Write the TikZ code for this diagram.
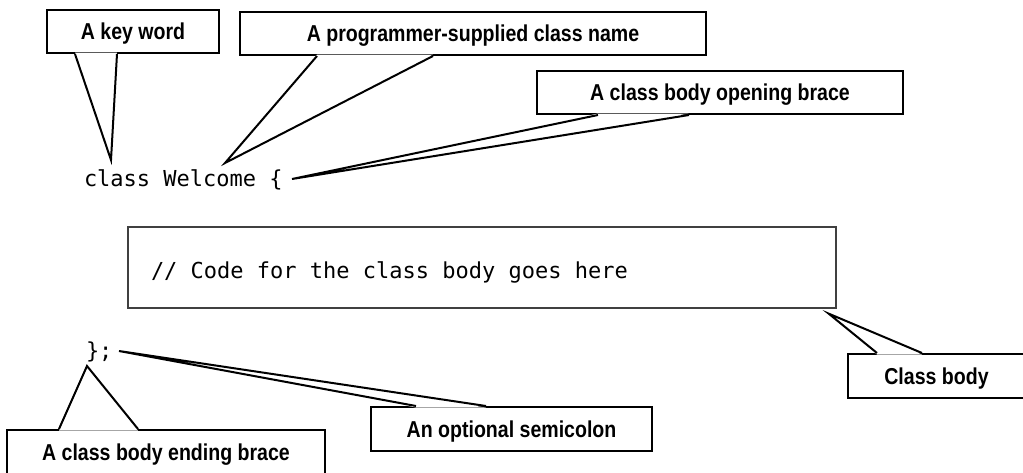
\documentclass[tikz,border=0pt]{standalone}
\usepackage{fontspec}
\setmainfont{Liberation Sans}
\setmonofont{DejaVu Sans Mono}
\newfontfamily\labelfont[FakeStretch=0.85]{Liberation Sans}

% pointer of a callout: base points #1, #2, tip #3, shift into the box #4
\newcommand{\callptr}[4]{%
	\fill[white] ([yshift=#4]#1) -- (#3) -- ([yshift=#4]#2) -- cycle;
	\draw (#1) -- (#3) -- (#2);}

\begin{document}
\begin{tikzpicture}[x=1pt, y=-1pt, line width=2pt]
	\tikzset{callbox/.style={draw, fill=white, inner sep=0pt, text depth=0pt, font=\labelfont\bfseries\fontsize{23}{26}\selectfont},
		codetext/.style={anchor=base west, inner sep=0pt, font=\ttfamily\fontsize{22}{26}\selectfont}}
	\useasboundingbox (0,0) rectangle (1023,472);
	% the code
	\node[codetext] (head) at (83,186) {class Welcome \{};
	\node[draw=black!75, line width=1.2pt, minimum width=708pt, minimum height=81pt] (body) at (482,267.5) {};
	\node[codetext] (comment) at (150,278) {// Code for the class body goes here};
	\node[codetext] (tail) at (85,358) {\};};
	% the callouts
	\node[callbox, minimum width=172pt, minimum height=43pt] (kw) at (133,31.5) {A key word};
	\node[callbox, minimum width=466pt, minimum height=43pt] (name) at (473,33.5) {A programmer-supplied class name};
	\node[callbox, minimum width=366pt, minimum height=43pt] (open) at (720,92.5) {A class body opening brace};
	\node[callbox, minimum width=177pt, minimum height=44pt] (cbody) at (936.5,376) {Class body};
	\node[callbox, minimum width=281pt, minimum height=44pt] (semi) at (511.5,429) {An optional semicolon};
	\node[callbox, minimum width=318pt, minimum height=44pt] (close) at (166,452) {A class body ending brace};
	% tips
	\coordinate (kwtip) at (111,160);
	\coordinate (nametip) at (225,163);
	\coordinate (opentip) at (292,179);
	\coordinate (cbodytip) at ([xshift=-8pt,yshift=-5pt]body.south east);
	\coordinate (semitip) at (119,351);
	\coordinate (closetip) at (87,366);
	% bases
	\coordinate (kwa) at ([xshift=29pt]kw.south west);
	\coordinate (kwb) at ([xshift=71pt]kw.south west);
	\coordinate (namea) at ([xshift=78pt]name.south west);
	\coordinate (nameb) at ([xshift=194pt]name.south west);
	\coordinate (opena) at ([xshift=62pt]open.south west);
	\coordinate (openb) at ([xshift=153pt]open.south west);
	\coordinate (cbodya) at ([xshift=30pt]cbody.north west);
	\coordinate (cbodyb) at ([xshift=75pt]cbody.north west);
	\coordinate (semia) at ([xshift=46pt]semi.north west);
	\coordinate (semib) at ([xshift=116pt]semi.north west);
	\coordinate (closea) at ([xshift=53pt]close.north west);
	\coordinate (closeb) at ([xshift=132pt]close.north west);
	\callptr{kwa}{kwb}{kwtip}{1.5pt}
	\callptr{namea}{nameb}{nametip}{1.5pt}
	\callptr{opena}{openb}{opentip}{1.5pt}
	\callptr{cbodya}{cbodyb}{cbodytip}{-1.5pt}
	\callptr{semia}{semib}{semitip}{-1.5pt}
	\callptr{closea}{closeb}{closetip}{-1.5pt}
\end{tikzpicture}
\end{document}
